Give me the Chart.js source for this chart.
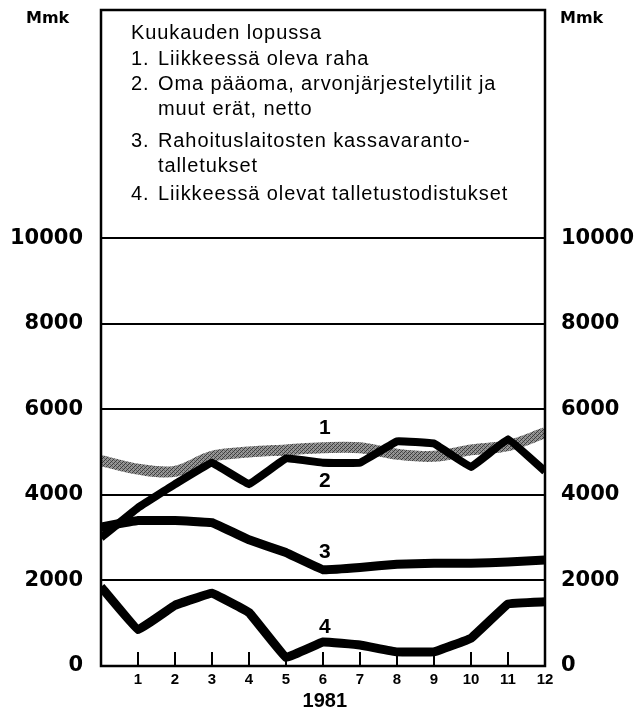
<!DOCTYPE html>
<html>
<head>
<meta charset="utf-8">
<script src="https://cdn.jsdelivr.net/npm/chart.js@4.4.1/dist/chart.umd.min.js"></script>
<style>
  html, body { margin: 0; padding: 0; background: #fff; }
  #wrap { width: 644px; height: 712px; }
</style>
</head>
<body>
<div id="wrap"><canvas id="chart" width="644" height="712"></canvas></div>
<script>
// ---------- data ----------
const months = [0, 1, 2, 3, 4, 5, 6, 7, 8, 9, 10, 11, 12];
const monthTicks = [1, 2, 3, 4, 5, 6, 7, 8, 9, 10, 11, 12];
const yTicks = [0, 2000, 4000, 6000, 8000, 10000];

const s1Currency = [4800, 4600, 4550, 4900, 5000, 5050, 5100, 5100, 4950, 4900, 5050, 5150, 5450];
const s2Equity   = [3000, 3700, 4250, 4750, 4250, 4850, 4750, 4750, 5250, 5200, 4650, 5300, 4550];
const s3Reserves = [3250, 3400, 3400, 3350, 2950, 2650, 2250, 2300, 2380, 2400, 2400, 2430, 2480];
const s4Certs    = [1850, 850, 1420, 1700, 1250, 200, 560, 490, 330, 330, 650, 1450, 1500];

const legendTitle = "Kuukauden lopussa";
const legendItems = [
    ["1.", ["Liikkeessä oleva raha"]],
    ["2.", ["Oma pääoma, arvonjärjestelytilit ja", "muut erät, netto"]],
    ["3.", ["Rahoituslaitosten kassavaranto-", "talletukset"]],
    ["4.", ["Liikkeessä olevat talletustodistukset"]]
];
const seriesTags = ["1", "2", "3", "4"];
const xTitle = "1981";
const unitLabel = "Mmk";

// ---------- helpers ----------
function toPoints(vals) {
    return vals.map((v, i) => ({ x: months[i], y: v }));
}

// grey stippled texture for series 1
function stipple() {
    const c = document.createElement("canvas");
    c.width = 4; c.height = 4;
    const g = c.getContext("2d");
    g.fillStyle = "#959595";
    g.fillRect(0, 0, 4, 4);
    g.fillStyle = "#3c3c3c";
    g.fillRect(0, 0, 1, 1); g.fillRect(2, 2, 1, 1);
    g.fillRect(1, 3, 1, 1); g.fillRect(3, 1, 1, 1);
    g.fillStyle = "#666";
    g.fillRect(2, 0, 1, 1); g.fillRect(0, 2, 1, 1);
    return g.createPattern(c, "repeat");
}

// ---------- frame, legend box text, tags ----------
const decorPlugin = {
    id: "decor",
    afterDatasetsDraw(chart) {
        const ctx = chart.ctx;
        const a = chart.chartArea;
        const xs = chart.scales.x, ys = chart.scales.y;
        ctx.save();

        // frame: left, right, top, bottom
        ctx.strokeStyle = "#000";
        ctx.lineWidth = 2.5;
        ctx.lineCap = "square";
        ctx.beginPath();
        ctx.moveTo(a.left, a.bottom); ctx.lineTo(a.left, a.top);
        ctx.lineTo(a.right, a.top); ctx.lineTo(a.right, a.bottom);
        ctx.closePath();
        ctx.stroke();

        // inner tick marks for months
        ctx.lineWidth = 2;
        ctx.lineCap = "butt";
        monthTicks.forEach(m => {
            const px = xs.getPixelForValue(m);
            ctx.beginPath();
            ctx.moveTo(px, a.bottom);
            ctx.lineTo(px, a.bottom - 14);
            ctx.stroke();
        });

        // legend text inside the top box
        ctx.fillStyle = "#000";
        ctx.textBaseline = "alphabetic";
        ctx.textAlign = "left";
        ctx.font = "20px 'Liberation Sans', Arial, sans-serif";
        if ("letterSpacing" in ctx) ctx.letterSpacing = "0.9px";
        const baselines = [65, 90, 115, 147, 172, 200];
        ctx.fillText(legendTitle, 131, 39);
        let row = 0;
        legendItems.forEach(([num, lines]) => {
            ctx.fillText(num, 131, baselines[row]);
            lines.forEach(t => {
                ctx.fillText(t, 158, baselines[row]);
                row++;
            });
        });
        if ("letterSpacing" in ctx) ctx.letterSpacing = "0px";

        // series tags
        ctx.font = "bold 21px 'Liberation Sans', Arial, sans-serif";
        ctx.textAlign = "center";
        ctx.textBaseline = "middle";
        const tagPos = [[6.05, 5560], [6.05, 4330], [6.05, 2650], [6.05, 900]];
        seriesTags.forEach((t, i) => {
            ctx.fillText(t, xs.getPixelForValue(tagPos[i][0]), ys.getPixelForValue(tagPos[i][1]));
        });

        // unit labels
        ctx.font = "bold 16px 'DejaVu Sans', sans-serif";
        ctx.textAlign = "left";
        ctx.textBaseline = "alphabetic";
        ctx.fillText(unitLabel, 26, 23);
        ctx.fillText(unitLabel, 560, 23);

        // x axis title
        ctx.font = "bold 20px 'Liberation Sans', Arial, sans-serif";
        ctx.textAlign = "center";
        ctx.fillText(xTitle, xs.getPixelForValue(6.05), 707);

        ctx.restore();
    }
};

const yTickFont = { family: "'DejaVu Sans', sans-serif", size: 21, weight: "bold" };

function fixedTicks(list) {
    return scale => { scale.ticks = list.map(v => ({ value: v })); };
}
function plain(v) { return String(v); }

const ctx = document.getElementById("chart");
const chart = new Chart(ctx, {
    type: "line",
    data: {
        datasets: [
            {
                label: legendItems[0][1][0],
                data: toPoints(s1Currency),
                borderColor: stipple(),
                borderWidth: 11,
                tension: 0.35,
                order: 10
            },
            {
                label: legendItems[1][1][0],
                data: toPoints(s2Equity),
                borderColor: "#000",
                borderWidth: 8,
                tension: 0.05,
                order: 2
            },
            {
                label: legendItems[2][1][0],
                data: toPoints(s3Reserves),
                borderColor: "#000",
                borderWidth: 9,
                tension: 0.05,
                order: 3
            },
            {
                label: legendItems[3][1][0],
                data: toPoints(s4Certs),
                borderColor: "#000",
                borderWidth: 9,
                tension: 0.05,
                order: 4
            }
        ]
    },
    options: {
        responsive: false,
        animation: false,
        devicePixelRatio: 1,
        layout: { padding: { top: 10, left: 0, right: 0, bottom: 0 } },
        elements: {
            point: { radius: 0 },
            line: { borderJoinStyle: "round", borderCapStyle: "butt" }
        },
        plugins: {
            legend: { display: false },
            tooltip: { enabled: false }
        },
        scales: {
            x: {
                type: "linear",
                min: 0,
                max: 12,
                afterBuildTicks: fixedTicks(monthTicks),
                afterFit: s => { s.height = 46; s.paddingLeft = 0; s.paddingRight = 0; },
                grid: { display: false, drawTicks: false },
                border: { display: false },
                ticks: {
                    padding: 5,
                    color: "#000",
                    maxRotation: 0,
                    autoSkip: false,
                    callback: plain,
                    font: { family: "'Liberation Sans', Arial, sans-serif", size: 15, weight: "bold" }
                }
            },
            y: {
                position: "left",
                min: 0,
                max: 15330,
                afterBuildTicks: fixedTicks(yTicks),
                afterFit: s => { s.width = 101; s.paddingTop = 0; s.paddingBottom = 0; },
                grid: { color: "#000", lineWidth: 2, drawTicks: false },
                border: { display: false },
                ticks: { padding: 18, color: "#000", font: yTickFont, callback: plain }
            },
            y2: {
                position: "right",
                min: 0,
                max: 15330,
                afterBuildTicks: fixedTicks(yTicks),
                afterFit: s => { s.width = 99; s.paddingTop = 0; s.paddingBottom = 0; },
                grid: { display: false, drawTicks: false },
                border: { display: false },
                ticks: { padding: 16, color: "#000", font: yTickFont, callback: plain }
            }
        }
    },
    plugins: [decorPlugin]
});
</script>
</body>
</html>
